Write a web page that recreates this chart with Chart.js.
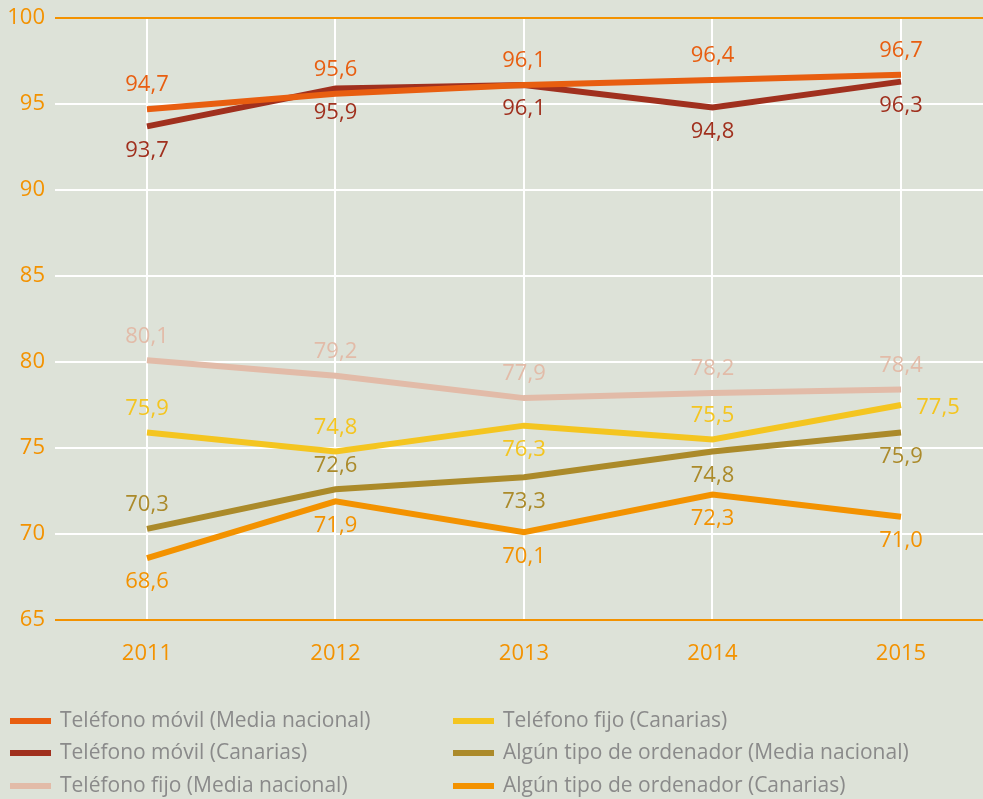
<!DOCTYPE html>
<html lang="es">
<head>
<meta charset="utf-8">
<title>Equipamiento TIC en hogares</title>
<script src="https://cdn.jsdelivr.net/npm/chart.js@4/dist/chart.umd.min.js"></script>
<style>
    html, body { margin: 0; padding: 0; background: #dde2d8; }
    #wrap { width: 983px; height: 799px; position: relative; }
</style>
</head>
<body>
<div id="wrap"><canvas id="chart" width="983" height="799"></canvas></div>
<script>
// Data
const years = [2011, 2012, 2013, 2014, 2015];
const yTicks = [65, 70, 75, 80, 85, 90, 95, 100];

const movilNacional = [94.7, 95.6, 96.1, 96.4, 96.7];
const movilCanarias = [93.7, 95.9, 96.1, 94.8, 96.3];
const fijoNacional = [80.1, 79.2, 77.9, 78.2, 78.4];
const fijoCanarias = [75.9, 74.8, 76.3, 75.5, 77.5];
const ordenadorNacional = [70.3, 72.6, 73.3, 74.8, 75.9];
const ordenadorCanarias = [68.6, 71.9, 70.1, 72.3, 71.0];

const seriesNames = [
    'Teléfono móvil (Media nacional)',
    'Teléfono móvil (Canarias)',
    'Teléfono fijo (Media nacional)',
    'Teléfono fijo (Canarias)',
    'Algún tipo de ordenador (Media nacional)',
    'Algún tipo de ordenador (Canarias)'
];

// Styles
const colors = ['#e85e10', '#a0301e', '#e2bba8', '#f4c520', '#ab8a2a', '#f39200'];
const axisOrange = '#f39200';
const FONT = '"Open Sans", sans-serif';

// where each value label sits: a = above, b = below, r = right
const labelSide = [
    ['a', 'a', 'a', 'a', 'a'],
    ['b', 'b', 'b', 'b', 'b'],
    ['a', 'a', 'a', 'a', 'a'],
    ['a', 'a', 'b', 'a', 'r'],
    ['a', 'a', 'b', 'b', 'b'],
    ['b', 'b', 'b', 'b', 'b']
];

const allSeries = [movilNacional, movilCanarias, fijoNacional, fijoCanarias, ordenadorNacional, ordenadorCanarias];

const datasets = allSeries.map((vals, i) => ({
    label: seriesNames[i],
    data: years.map((y, j) => ({ x: y, y: vals[j] })),
    borderColor: colors[i],
    backgroundColor: colors[i],
    borderWidth: 6,
    pointRadius: 0,
    borderCapStyle: 'butt',
    tension: 0
}));

// Value labels with comma decimals
const valueLabels = {
    id: 'valueLabels',
    afterDatasetsDraw(chart) {
        const ctx = chart.ctx;
        ctx.save();
        ctx.font = '22px ' + FONT;
        ctx.textBaseline = 'middle';
        chart.data.datasets.forEach((ds, i) => {
            const meta = chart.getDatasetMeta(i);
            meta.data.forEach((pt, j) => {
                const txt = allSeries[i][j].toFixed(1).replace('.', ',');
                const side = labelSide[i][j];
                let x = pt.x, y = pt.y;
                ctx.textAlign = 'center';
                if (side === 'a') y -= 24;
                else if (side === 'b') y += 24;
                else { x += 37; y += 3; }
                ctx.fillStyle = colors[i];
                ctx.fillText(txt, x, y);
            });
        });
        ctx.restore();
    }
};

// Legend in two columns, filled column by column
const gridLegend = {
    id: 'gridLegend',
    afterDraw(chart) {
        const ctx = chart.ctx;
        const colX = [10, 453];
        const rowY = [721, 753, 786];
        ctx.save();
        ctx.font = '21px ' + FONT;
        ctx.textBaseline = 'middle';
        ctx.textAlign = 'left';
        seriesNames.forEach((name, i) => {
            const x = colX[Math.floor(i / 3)];
            const y = rowY[i % 3];
            ctx.fillStyle = colors[i];
            ctx.fillRect(x, y - 3, 41, 6);
            ctx.fillStyle = '#8a8a8a';
            ctx.fillText(name, x + 50, y);
        });
        ctx.restore();
    }
};

const ctx = document.getElementById('chart').getContext('2d');
new Chart(ctx, {
    type: 'line',
    data: { datasets: datasets },
    options: {
        responsive: false,
        animation: false,
        layout: { padding: { top: 18, right: 0, bottom: 0, left: 0 } },
        plugins: {
            legend: { display: false },
            tooltip: { enabled: false }
        },
        scales: {
            x: {
                type: 'linear',
                min: 2010.512,
                max: 2015.435,
                afterBuildTicks: s => { s.ticks = years.map(v => ({ value: v })); },
                afterFit: s => { s.height = 179; },
                border: { display: false },
                grid: { color: '#ffffff', lineWidth: 2, drawTicks: false },
                ticks: {
                    color: axisOrange,
                    font: { family: FONT, size: 22 },
                    padding: 21,
                    callback: v => String(v)
                }
            },
            y: {
                min: 65,
                max: 100,
                afterBuildTicks: s => { s.ticks = yTicks.map(v => ({ value: v })); },
                afterFit: s => { s.width = 55; s.paddingTop = 0; s.paddingBottom = 0; },
                border: { display: false },
                grid: {
                    drawTicks: false,
                    lineWidth: 2,
                    color: c => (c.tick && (c.tick.value === 65 || c.tick.value === 100)) ? axisOrange : '#ffffff'
                },
                ticks: {
                    color: axisOrange,
                    font: { family: FONT, size: 22 },
                    padding: 10
                }
            }
        }
    },
    plugins: [valueLabels, gridLegend]
});
</script>
</body>
</html>
